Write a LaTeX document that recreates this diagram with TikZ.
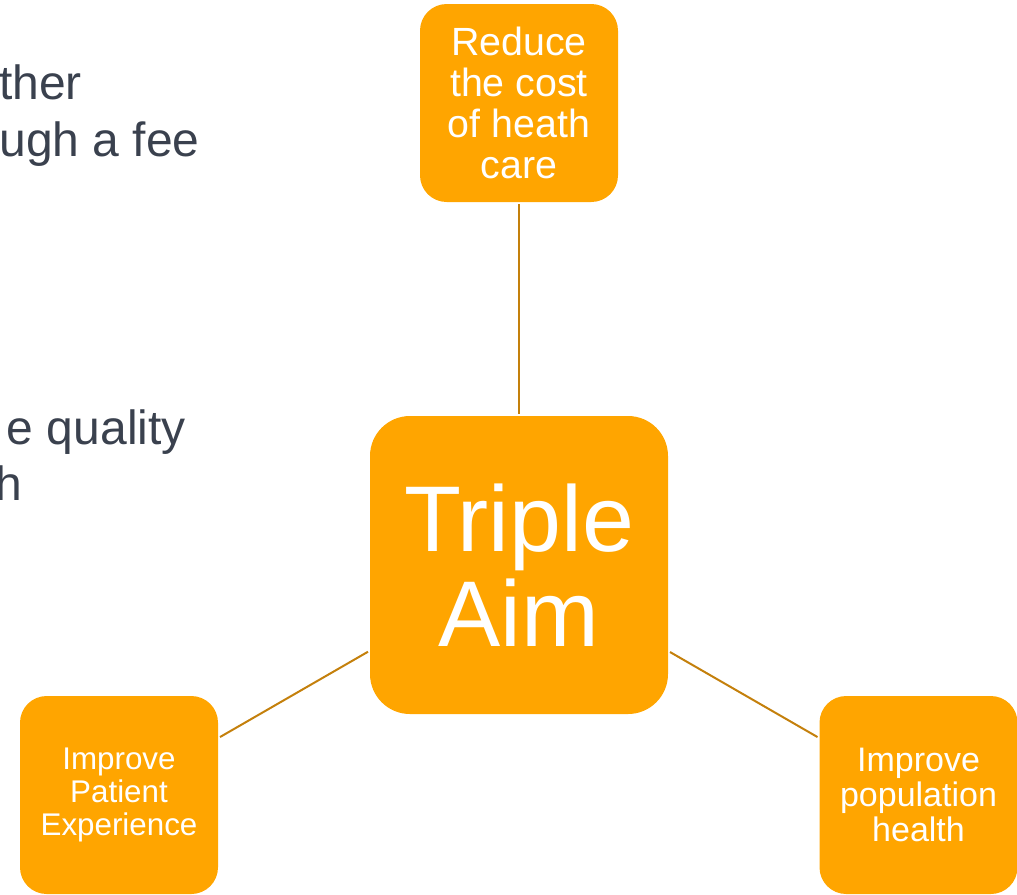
\documentclass[tikz,border=0pt]{standalone}
\usepackage{fontspec}
\setmainfont{Liberation Sans}
\definecolor{aimorange}{RGB}{255,165,0}
\definecolor{aimline}{RGB}{196,128,12}
\definecolor{slidetext}{RGB}{58,65,78}

\begin{document}
\begin{tikzpicture}[x=0.75pt,y=-0.75pt]
    \tikzstyle{aim}=[rectangle,rounded corners=20pt,fill=aimorange,text=white,align=center,minimum size=148.5pt,inner sep=0pt]
    \tikzstyle{core aim}=[aim,rounded corners=30pt,minimum size=223.5pt]
    \tikzstyle{link}=[draw=aimline,line width=1.5pt,shorten >=1.5pt,shorten <=1.5pt]
    \tikzstyle{slide text}=[text=slidetext,anchor=base east,inner sep=0pt,font=\fontsize{36}{42}\selectfont]
    \useasboundingbox (0,0) rectangle (1017,894);

    % Bits of the slide text that run in from the left
    \node[slide text] (txt-1) at (82,99) {ther};
    \node[slide text] (txt-2) at (200,156) {ugh a fee};
    \node[slide text] (txt-3) at (186,444) {e quality};
    \node[slide text] (txt-4) at (22,500) {h};

    % The aim in the middle
    \node[core aim,font=\fontsize{70}{71}\selectfont] (triple) at (519,565) {Triple\\Aim};

    % The three aims around it
    \node[aim,font=\fontsize{29.5}{30.75}\selectfont] (cost) at (519,103) {Reduce\\the cost\\of heath\\care};
    \node[aim,font=\fontsize{23.5}{24.75}\selectfont] (patient) at (119,795) {Improve\\Patient\\Experience};
    \node[aim,font=\fontsize{25.5}{26.25}\selectfont] (population) at (918.5,795) {Improve\\population\\health};

    % Connect them
    \draw[link] (cost) -- (triple);
    \foreach \dest in {patient,population}
        \draw[link] (triple) -- (\dest);
\end{tikzpicture}
\end{document}
